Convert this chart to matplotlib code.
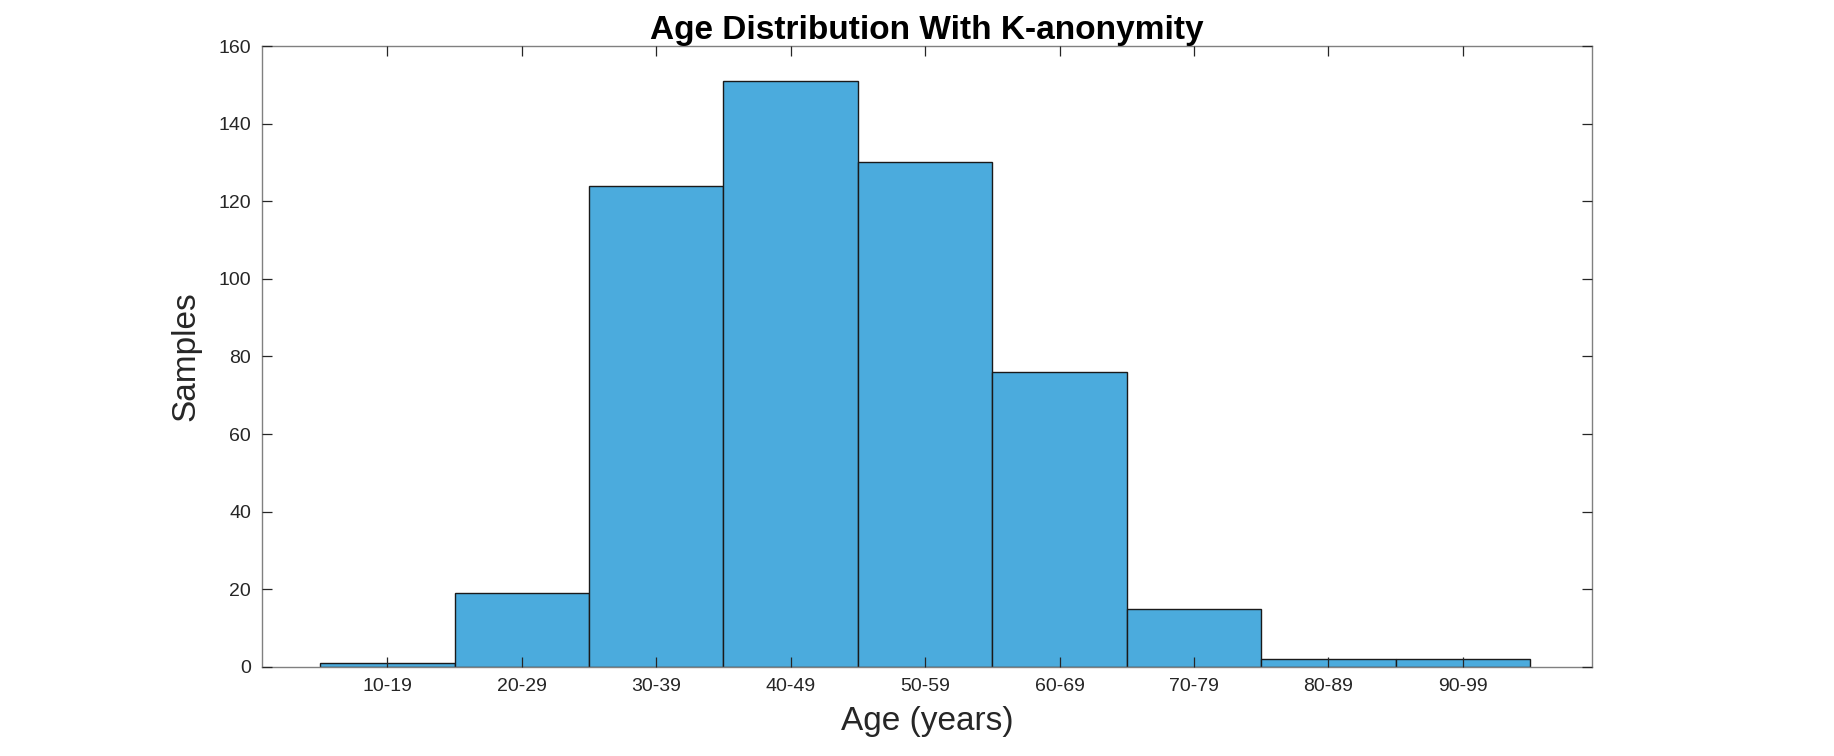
import matplotlib
matplotlib.use("Agg")
from matplotlib import pyplot as plt

# age groups and sample counts
age_groups = ["10-19", "20-29", "30-39", "40-49", "50-59", "60-69", "70-79", "80-89", "90-99"]
counts = [1, 19, 124, 151, 130, 76, 15, 2, 2]
y_ticks = [0, 20, 40, 60, 80, 100, 120, 140, 160]

plt.rcParams['font.family'] = ['Liberation Sans', 'DejaVu Sans']

fig = plt.figure(figsize=(18.34, 7.56), dpi=100)
ax = fig.add_axes([0.143, 0.118, 0.725, 0.821])

pos = list(range(1, len(age_groups) + 1))
ax.bar(pos, counts, width=1.0, color='#4BABDD', edgecolor='#1a1a1a', linewidth=1.0, zorder=1)
ax.set_axisbelow(False)

ax.set_xlim(0.07, 9.96)
ax.set_ylim(0, 160)
ax.set_xticks(pos)
ax.set_xticklabels(age_groups)
ax.set_yticks(y_ticks)

grey = '#262626'
for s in ax.spines.values():
    s.set_color('#808080')
    s.set_linewidth(1.0)
ax.tick_params(direction='in', top=True, right=True, length=7, width=0.9,
               color='#262626', labelsize=14, labelcolor=grey, pad=8)

ax.set_xlabel("Age (years)", fontsize=24, color=grey, labelpad=8)
ax.set_ylabel("Samples", fontsize=24, color=grey, labelpad=12)
ax.set_title("Age Distribution With K-anonymity", fontsize=24, fontweight='bold', color='black', pad=5)

fig.savefig("out.png", dpi=100)
